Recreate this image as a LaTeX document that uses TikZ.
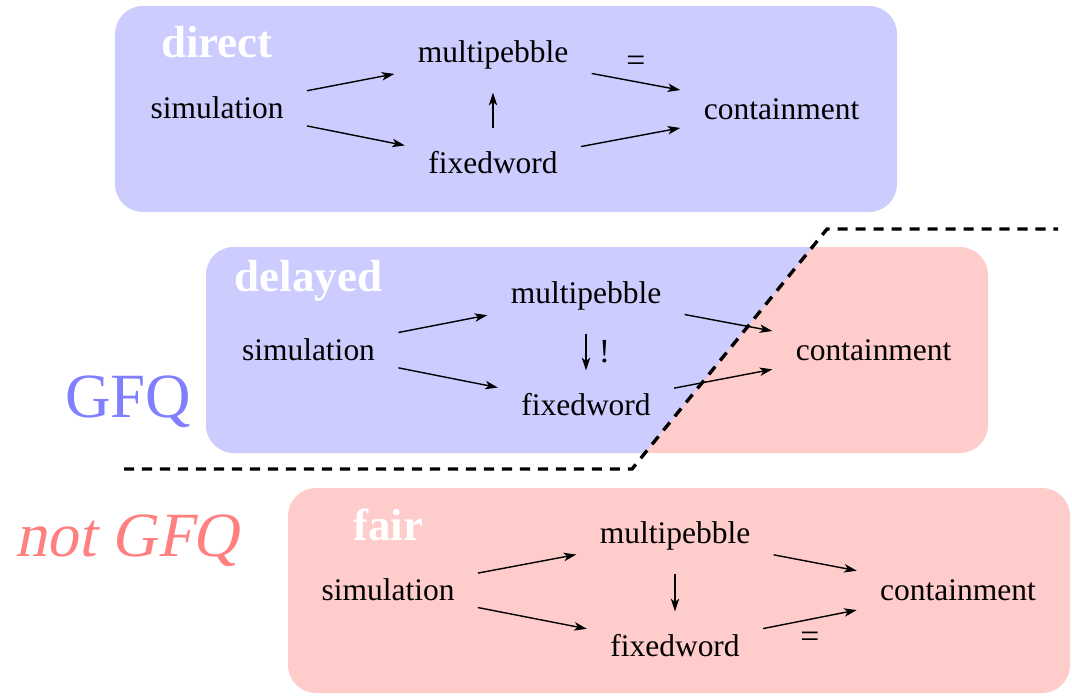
\documentclass[tikz,border=0pt]{standalone}
\usepackage{fontspec}
\setmainfont{Liberation Serif}
\newfontfamily\classitalic[FakeSlant=0.2]{Liberation Serif}
\usepackage{xcolor}
\usepackage{tikz}
\usetikzlibrary{arrows.meta, positioning}
\definecolor{gfqfill}{RGB}{204, 204, 255}
\definecolor{gfqtext}{RGB}{128, 128, 255}
\definecolor{nongfqfill}{RGB}{255, 204, 204}
\definecolor{nongfqtext}{RGB}{255, 128, 128}

\begin{document}
\begin{tikzpicture}[
    obj/.style={font=\fontsize{11.2}{13}\selectfont, outer sep=5pt},
    eqlabel/.style={font=\fontsize{12}{14}\selectfont},
    title/.style={font=\fontsize{16}{19}\selectfont\bfseries, text=white, anchor=base},
    class/.style={font=\fontsize{22.4}{27}\selectfont, anchor=base},
    panel/.style={rounded corners=0.35cm},
    arrow/.style={-{Stealth[length=4.5pt, width=3pt, inset=1.2pt]}, line width=0.5pt},
    divider/.style={line width=1.2pt, dash pattern=on 3.6pt off 2.8pt}
]
    \useasboundingbox (0, 0) rectangle (13.4, -8.6875);

    % Panels
    \fill[panel, gfqfill] (1.4375, -0.075) rectangle (11.2125, -2.65);
    \fill[panel, nongfqfill] (2.575, -3.0875) rectangle (12.35, -5.6625);
    \begin{scope}
        \clip (0, -2.8625) -- (10.3375, -2.8625) -- (7.9, -5.8625) -- (0, -5.8625) -- cycle;
        \fill[panel, gfqfill] (2.575, -3.0875) rectangle (12.35, -5.6625);
    \end{scope}
    \fill[panel, nongfqfill] (3.6, -6.1) rectangle (13.375, -8.6625);

    % GFQ / not GFQ border
    \draw[divider] (1.55, -5.8625) -- (7.9, -5.8625) -- (10.3375, -2.8625) -- (13.225, -2.8625);

    \node[class, text=gfqtext] (gfq) at (1.606, -5.2125) {GFQ};
    \node[class, text=nongfqtext] (notgfq) at (1.58, -6.95) {\classitalic not GFQ};

    % direct
    \node[title] (direct) at (2.7125, -0.7125) {direct};
    \node[obj] (sim1) at (2.7125, -1.35) {simulation};
    \node[obj] (mp1) at (6.1625, -0.6875) {multipebble};
    \node[obj] (fw1) at (6.1625, -2.0375) {fixedword};
    \node[obj] (ct1) at (9.77, -1.3625) {containment};

    \draw[arrow] (sim1) -- (mp1);
    \draw[arrow] (sim1) -- (fw1);
    \draw[arrow] (fw1) -- (mp1);
    \draw[arrow] (mp1) -- node[eqlabel, above] {=} (ct1);
    \draw[arrow] (fw1) -- (ct1);

    % delayed
    \node[title] (delayed) at (3.856, -3.6375) {delayed};
    \node[obj] (sim2) at (3.856, -4.375) {simulation};
    \node[obj] (mp2) at (7.325, -3.7) {multipebble};
    \node[obj] (fw2) at (7.325, -5.0625) {fixedword};
    \node[obj] (ct2) at (10.92, -4.375) {containment};

    \draw[arrow] (sim2) -- (mp2);
    \draw[arrow] (sim2) -- (fw2);
    \draw[arrow] (mp2) -- node[eqlabel, right=1pt] {!} (fw2);
    \draw[arrow] (mp2) -- (ct2);
    \draw[arrow] (fw2) -- (ct2);

    % fair
    \node[title] (fair) at (4.85, -6.75) {fair};
    \node[obj] (sim3) at (4.85, -7.375) {simulation};
    \node[obj] (mp3) at (8.4375, -6.7) {multipebble};
    \node[obj] (fw3) at (8.4375, -8.075) {fixedword};
    \node[obj] (ct3) at (11.975, -7.375) {containment};

    \draw[arrow] (sim3) -- (mp3);
    \draw[arrow] (sim3) -- (fw3);
    \draw[arrow] (mp3) -- (fw3);
    \draw[arrow] (mp3) -- (ct3);
    \draw[arrow] (fw3) -- node[eqlabel, below=1pt] {=} (ct3);

\end{tikzpicture}
\end{document}
